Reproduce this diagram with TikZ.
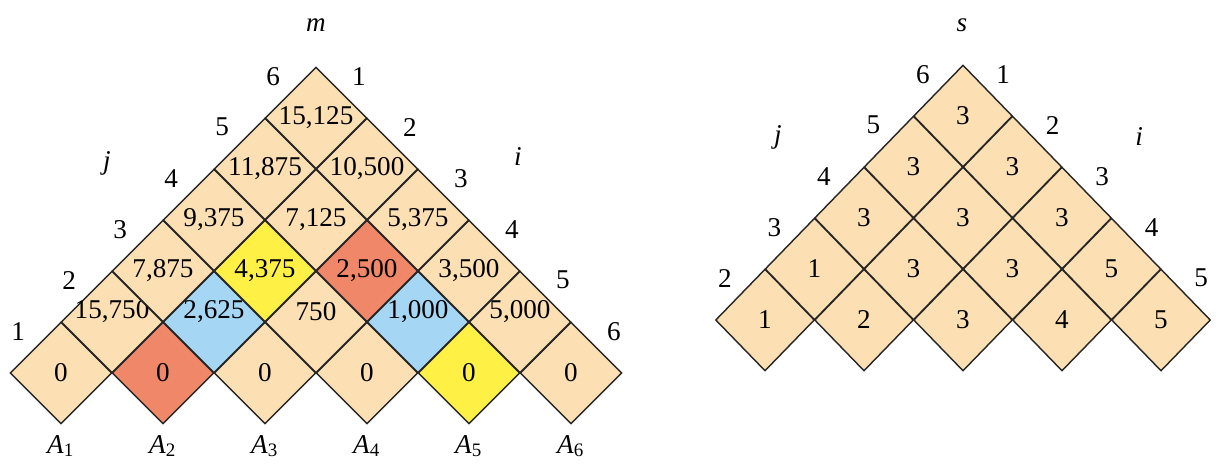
\documentclass[tikz,border=0pt]{standalone}
\usepackage{fontspec}
\setmainfont{Liberation Serif}
\usetikzlibrary{shapes.geometric}
\definecolor{cellfill}{RGB}{252,224,180}
\definecolor{cellred}{RGB}{240,135,105}
\definecolor{cellyellow}{RGB}{255,240,70}
\definecolor{cellblue}{RGB}{165,215,245}
\newcommand{\upby}[1]{\raisebox{3.5pt}[\height][\depth]{#1}}
\tikzset{
  cell/.style={diamond,draw=black!85,line width=.5pt,fill=cellfill,
    inner sep=0pt,minimum width=35.7pt,minimum height=35.7pt},
  scell/.style={cell,minimum width=34.65pt},
  idx/.style={inner sep=0pt},
}

\begin{document}
\begin{tikzpicture}[x=0.35pt,y=-0.35pt,font=\fontsize{9.5}{11}\selectfont]
  \useasboundingbox (0,0) rectangle (1220,463);
  % table m
  \node[cell] (m11) at (61,373) {0};
  \node[cell,fill=cellred] (m22) at (163,373) {0};
  \node[cell] (m33) at (265,373) {0};
  \node[cell] (m44) at (367,373) {0};
  \node[cell,fill=cellyellow] (m55) at (469,373) {0};
  \node[cell] (m66) at (571,373) {0};
  \node[cell] (m12) at (112,322) {\upby{15,750}};
  \node[cell,fill=cellblue] (m23) at (214,322) {\upby{2,625}};
  \node[cell] (m34) at (316,322) {\upby{750}};
  \node[cell,fill=cellblue] (m45) at (418,322) {\upby{1,000}};
  \node[cell] (m56) at (520,322) {\upby{5,000}};
  \node[cell] (m13) at (163,271) {7,875};
  \node[cell,fill=cellyellow] (m24) at (265,271) {4,375};
  \node[cell,fill=cellred] (m35) at (367,271) {2,500};
  \node[cell] (m46) at (469,271) {3,500};
  \node[cell] (m14) at (214,220) {9,375};
  \node[cell] (m25) at (316,220) {7,125};
  \node[cell] (m36) at (418,220) {5,375};
  \node[cell] (m15) at (265,169) {11,875};
  \node[cell] (m26) at (367,169) {10,500};
  \node[cell] (m16) at (316,118) {15,125};
  \node[idx] (jl1) at ([shift={(-17,-16)}]m11.north west) {1};
  \node[idx] (jl2) at ([shift={(-17,-16)}]m12.north west) {2};
  \node[idx] (jl3) at ([shift={(-17,-16)}]m13.north west) {3};
  \node[idx] (jl4) at ([shift={(-17,-16)}]m14.north west) {4};
  \node[idx] (jl5) at ([shift={(-17,-16)}]m15.north west) {5};
  \node[idx] (jl6) at ([shift={(-17,-16)}]m16.north west) {6};
  \node[idx] (il1) at ([shift={(17,-16)}]m16.north east) {1};
  \node[idx] (il2) at ([shift={(17,-16)}]m26.north east) {2};
  \node[idx] (il3) at ([shift={(17,-16)}]m36.north east) {3};
  \node[idx] (il4) at ([shift={(17,-16)}]m46.north east) {4};
  \node[idx] (il5) at ([shift={(17,-16)}]m56.north east) {5};
  \node[idx] (il6) at ([shift={(17,-16)}]m66.north east) {6};
  \node (mname) at (316,25) {\textit{m}};
  \node (mj) at (107,163) {\textit{j}};
  \node (mi) at (518,157) {\textit{i}};
  \node (a1) at (61,446) {\textit{A}\textsubscript{1}};
  \node (a2) at (163,446) {\textit{A}\textsubscript{2}};
  \node (a3) at (265,446) {\textit{A}\textsubscript{3}};
  \node (a4) at (367,446) {\textit{A}\textsubscript{4}};
  \node (a5) at (469,446) {\textit{A}\textsubscript{5}};
  \node (a6) at (571,446) {\textit{A}\textsubscript{6}};
  % table s
  \node[scell] (s12) at (765,320) {1};
  \node[scell] (s23) at (864,320) {2};
  \node[scell] (s34) at (963,320) {3};
  \node[scell] (s45) at (1062,320) {4};
  \node[scell] (s56) at (1161,320) {5};
  \node[scell] (s13) at (814.5,269) {1};
  \node[scell] (s24) at (913.5,269) {3};
  \node[scell] (s35) at (1012.5,269) {3};
  \node[scell] (s46) at (1111.5,269) {5};
  \node[scell] (s14) at (864,218) {3};
  \node[scell] (s25) at (963,218) {3};
  \node[scell] (s36) at (1062,218) {3};
  \node[scell] (s15) at (913.5,167) {3};
  \node[scell] (s26) at (1012.5,167) {3};
  \node[scell] (s16) at (963,116) {3};
  \node[idx] (sj2) at ([shift={(-15,-16)}]s12.north west) {2};
  \node[idx] (sj3) at ([shift={(-15,-16)}]s13.north west) {3};
  \node[idx] (sj4) at ([shift={(-15,-16)}]s14.north west) {4};
  \node[idx] (sj5) at ([shift={(-15,-16)}]s15.north west) {5};
  \node[idx] (sj6) at ([shift={(-15,-16)}]s16.north west) {6};
  \node[idx] (si1) at ([shift={(15,-16)}]s16.north east) {1};
  \node[idx] (si2) at ([shift={(15,-16)}]s26.north east) {2};
  \node[idx] (si3) at ([shift={(15,-16)}]s36.north east) {3};
  \node[idx] (si4) at ([shift={(15,-16)}]s46.north east) {4};
  \node[idx] (si5) at ([shift={(15,-16)}]s56.north east) {5};
  \node (sname) at (962,25) {\textit{s}};
  \node (sj) at (778,137) {\textit{j}};
  \node (si) at (1139,137) {\textit{i}};
\end{tikzpicture}
\end{document}
